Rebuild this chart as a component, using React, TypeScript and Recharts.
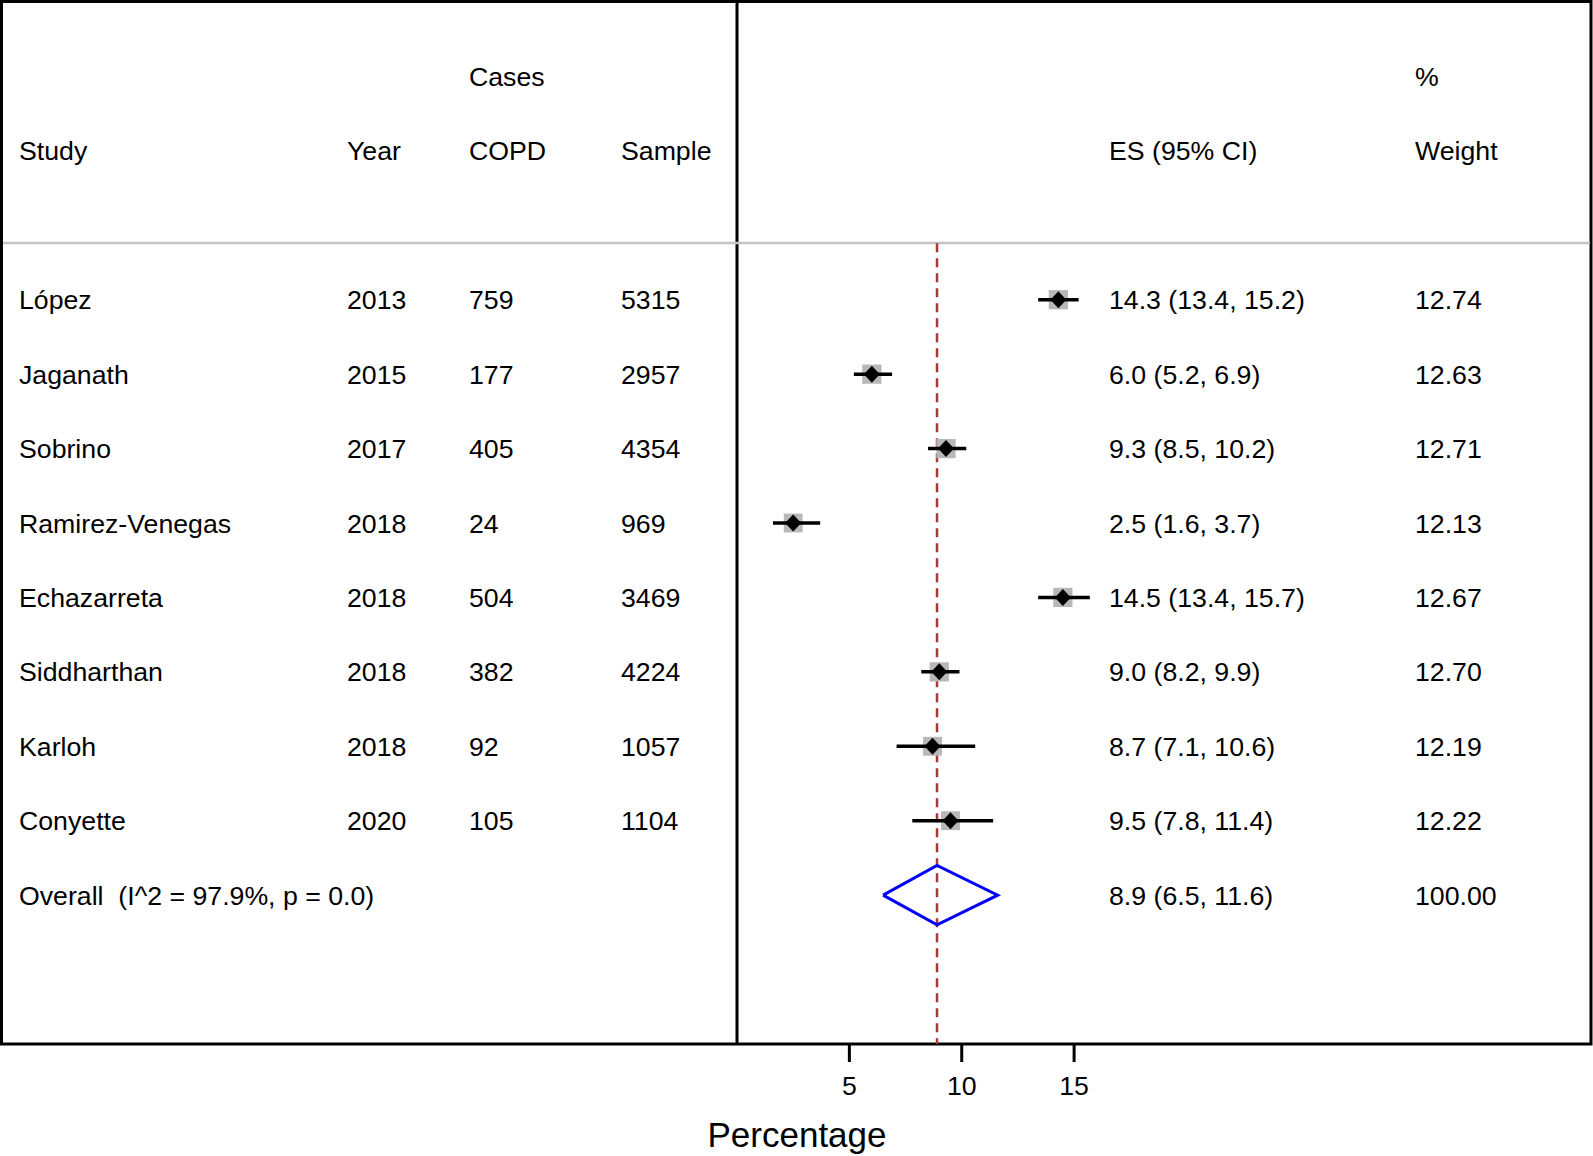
import React from "react";
import {
  ComposedChart,
  XAxis,
  YAxis,
  Scatter,
  ReferenceLine,
  Customized,
} from "recharts";

// study table
const studies = ["López", "Jaganath", "Sobrino", "Ramirez-Venegas", "Echazarreta", "Siddharthan", "Karloh", "Conyette"];
const years = [2013, 2015, 2017, 2018, 2018, 2018, 2018, 2020];
const copdCases = [759, 177, 405, 24, 504, 382, 92, 105];
const samples = [5315, 2957, 4354, 969, 3469, 4224, 1057, 1104];
const es = [14.3, 6.0, 9.3, 2.5, 14.5, 9.0, 8.7, 9.5];
const lower = [13.4, 5.2, 8.5, 1.6, 13.4, 8.2, 7.1, 7.8];
const upper = [15.2, 6.9, 10.2, 3.7, 15.7, 9.9, 10.6, 11.4];
const weights = [12.74, 12.63, 12.71, 12.13, 12.67, 12.7, 12.19, 12.22];

const overallLabel = "Overall  (I^2 = 97.9%, p = 0.0)";
const overallEs = 8.9;
const overallLower = 6.5;
const overallUpper = 11.6;
const overallWeight = 100;

const headerTop = ["", "", "Cases", "", "", "%"];
const headerBottom = ["Study", "Year", "COPD", "Sample", "ES (95% CI)", "Weight"];
const xTicks = [5, 10, 15];

const FONT = "'Liberation Sans', Arial, Helvetica, sans-serif";
const FS = 26.7;
const colX = [19, 347, 469, 621, 1109, 1415];

const fmtCi = (e: number, l: number, u: number) =>
  `${e.toFixed(1)} (${l.toFixed(1)}, ${u.toFixed(1)})`;

const tableRows = [
  { x: 0, y: -3, cells: headerTop },
  { x: 0, y: -2, cells: headerBottom },
  ...studies.map((s, i) => ({
    x: 0,
    y: i,
    cells: [s, String(years[i]), String(copdCases[i]), String(samples[i]), fmtCi(es[i], lower[i], upper[i]), weights[i].toFixed(2)],
  })),
  {
    x: 0,
    y: studies.length,
    cells: [overallLabel, "", "", "", fmtCi(overallEs, overallLower, overallUpper), overallWeight.toFixed(2)],
  },
];

const studyPoints = studies.map((s, i) => ({ x: es[i], y: i, w: weights[i] }));

// one segment per confidence interval
const ciSegments = studies.map((s, i) => [
  { x: lower[i], y: i },
  { x: upper[i], y: i },
]);

const oy = studies.length;
const overallDiamond = [
  { x: overallLower, y: oy },
  { x: overallEs, y: oy - 0.4 },
  { x: overallUpper, y: oy },
  { x: overallEs, y: oy + 0.4 },
  { x: overallLower, y: oy },
];

const TextRow = (props: any) => {
  const { cy, payload } = props;
  return (
    <g>
      {payload.cells.map((c: string, j: number) =>
        c ? (
          <text
            key={j}
            x={colX[j]}
            y={cy + 9.5}
            fontSize={FS}
            fontFamily={FONT}
            fill="#000"
            style={{ whiteSpace: "pre" }}
          >
            {c}
          </text>
        ) : null
      )}
    </g>
  );
};

const GraySquare = (props: any) => {
  const { cx, cy, payload } = props;
  const side = Math.sqrt(payload.w) * 5.4;
  return <rect x={cx - side / 2} y={cy - side / 2} width={side} height={side} fill="#b8b8b8" />;
};

const BlackDiamond = (props: any) => {
  const { cx, cy } = props;
  return (
    <polygon
      points={`${cx - 8},${cy} ${cx},${cy - 8.5} ${cx + 8},${cy} ${cx},${cy + 8.5}`}
      fill="#000"
    />
  );
};

const NoDot = () => <g />;

const Frame = () => (
  <g>
    <rect x={1.5} y={1.5} width={1589.5} height={1042.5} fill="none" stroke="#000" strokeWidth={3} />
    <line x1={737} y1={1.5} x2={737} y2={1044} stroke="#000" strokeWidth={3} />
    <line x1={3} y1={243} x2={1590} y2={243} stroke="#c4c4c4" strokeWidth={2.5} />
    <text x={797} y={1147} textAnchor="middle" fontSize={35} fontFamily={FONT} fill="#000">
      Percentage
    </text>
  </g>
);

export default function App() {
  return (
    <div style={{ position: "absolute", left: 0, top: 0, background: "#fff" }}>
      <ComposedChart
        width={1593}
        height={1156}
        margin={{ top: 2, left: 737, right: 2, bottom: 52 }}
      >
        <XAxis
          type="number"
          dataKey="x"
          domain={[0, 38]}
          ticks={xTicks}
          interval={0}
          axisLine={false}
          tickSize={18}
          tickMargin={14}
          tickLine={{ stroke: "#000", strokeWidth: 3 }}
          tick={{ fill: "#000", fontSize: FS, fontFamily: FONT }}
          height={60}
        />
        <YAxis type="number" dataKey="y" domain={[-4, 10]} reversed hide />
        <Customized component={<Frame />} />
        <ReferenceLine
          segment={[
            { x: overallEs, y: -0.76 },
            { x: overallEs, y: 10 },
          ]}
          stroke="#a33b3b"
          strokeWidth={2.5}
          strokeDasharray="9 6"
          ifOverflow="visible"
        />
        <Scatter data={studyPoints} shape={<GraySquare />} isAnimationActive={false} />
        {ciSegments.map((seg, i) => (
          <Scatter
            key={i}
            data={seg}
            line={{ stroke: "#000", strokeWidth: 3.5 }}
            shape={<NoDot />}
            isAnimationActive={false}
          />
        ))}
        <Scatter data={studyPoints} shape={<BlackDiamond />} isAnimationActive={false} />
        <Scatter
          data={overallDiamond}
          line={{ stroke: "#0000ff", strokeWidth: 3 }}
          shape={<NoDot />}
          isAnimationActive={false}
        />
        <Scatter data={tableRows} shape={<TextRow />} isAnimationActive={false} />
      </ComposedChart>
    </div>
  );
}
